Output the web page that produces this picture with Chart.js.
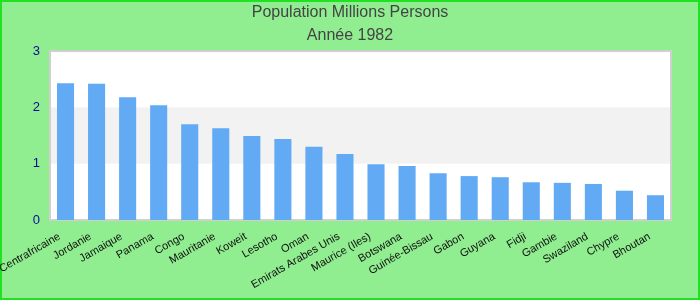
<!DOCTYPE html>
<html lang="fr">
<head>
  <meta charset="UTF-8" />
  <title>Population Millions Persons</title>
  <script src="https://cdn.jsdelivr.net/npm/chart.js"></script>
  <style>
    * {
      box-sizing: border-box;
      margin: 0;
      padding: 0;
    }

    body {
      background-color: #90ee90;
      width: 700px;
      height: 300px;
      overflow: hidden;
    }

    .container {
      position: relative;
      width: 700px;
      height: 300px;
    }
  </style>
</head>
<body>
  <div class="container">
    <canvas id="grafico"></canvas>
  </div>

<script>
  const pays = [
    "Centrafricaine", "Jordanie", "Jamaique", "Panama", "Congo",
    "Mauritanie", "Koweit", "Lesotho", "Oman", "Emirats Arabes Unis",
    "Maurice (Iles)", "Botswana", "Guinée-Bissau", "Gabon", "Guyana",
    "Fidji", "Gambie", "Swaziland", "Chypre", "Bhoutan"
  ];
  const population = [
    2.43, 2.42, 2.18, 2.04, 1.70,
    1.63, 1.49, 1.44, 1.30, 1.17,
    0.99, 0.96, 0.83, 0.78, 0.76,
    0.67, 0.66, 0.64, 0.52, 0.44
  ];
  const titre = ["Population Millions Persons", "Année 1982"];
  const ticksY = [0, 1, 2, 3];

  // fond vert, zone blanche avec bande grise entre 1 et 2, cadre gris
  const fondPlugin = {
    id: "fond",
    afterLayout(chart) {
      // titre centré sur toute la largeur
      if (chart.titleBlock) {
        chart.titleBlock.left = 0;
        chart.titleBlock.right = chart.width;
      }
    },
    beforeDraw(chart) {
      const { ctx, chartArea, width, height } = chart;
      const y = chart.scales.y;
      ctx.save();
      ctx.fillStyle = "#90ee90";
      ctx.fillRect(0, 0, width, height);
      ctx.strokeStyle = "#22e022";
      ctx.lineWidth = 2;
      ctx.strokeRect(1, 1, width - 2, height - 2);

      ctx.fillStyle = "#ffffff";
      ctx.fillRect(chartArea.left, chartArea.top, chartArea.width, chartArea.height);
      for (let i = 0; i < ticksY.length - 1; i++) {
        if (i % 2 === 1) {
          const y1 = y.getPixelForValue(ticksY[i]);
          const y2 = y.getPixelForValue(ticksY[i + 1]);
          ctx.fillStyle = "#f2f2f2";
          ctx.fillRect(chartArea.left, y2, chartArea.width, y1 - y2);
        }
      }
      ctx.strokeStyle = "#d0d0d0";
      ctx.lineWidth = 2;
      ctx.strokeRect(chartArea.left, chartArea.top, chartArea.width, chartArea.height);
      ctx.restore();
    }
  };

  const ctx = document.getElementById("grafico").getContext("2d");
  new Chart(ctx, {
    type: "bar",
    data: {
      labels: pays,
      datasets: [{
        data: population,
        backgroundColor: "#62aaf4",
        borderWidth: 0,
        categoryPercentage: 1,
        barPercentage: 0.55,
      }],
    },
    options: {
      responsive: true,
      maintainAspectRatio: false,
      animation: false,
      layout: {
        padding: { left: 2, right: 29, top: 0, bottom: 0 },
      },
      plugins: {
        legend: { display: false },
        tooltip: { enabled: false },
        title: {
          display: true,
          text: titre,
          color: "#444444",
          font: { family: "Liberation Sans, Arial, sans-serif", size: 16, weight: "normal", lineHeight: 1.44 },
          padding: { top: 1, bottom: 4 },
        },
      },
      scales: {
        x: {
          grid: { display: false, drawTicks: false },
          border: { display: false },
          ticks: {
            color: "#111111",
            font: { family: "Liberation Sans, Arial, sans-serif", size: 11 },
            autoSkip: false,
            minRotation: 30,
            maxRotation: 30,
            padding: 10,
            labelOffset: -6,
          },
          afterFit(scale) {
            scale.height = 80;
            scale.paddingLeft = 0;
            scale.paddingRight = 0;
          },
        },
        y: {
          min: 0,
          max: 3,
          grid: { display: false, drawTicks: false },
          border: { display: false },
          afterBuildTicks(scale) {
            scale.ticks = ticksY.map(v => ({ value: v }));
          },
          ticks: {
            color: "#0a0a9a",
            font: { family: "Liberation Sans, Arial, sans-serif", size: 13 },
            padding: 10,
          },
          afterFit(scale) {
            scale.width = 48;
          },
        },
      },
    },
    plugins: [fondPlugin],
  });
</script>
</body>
</html>
